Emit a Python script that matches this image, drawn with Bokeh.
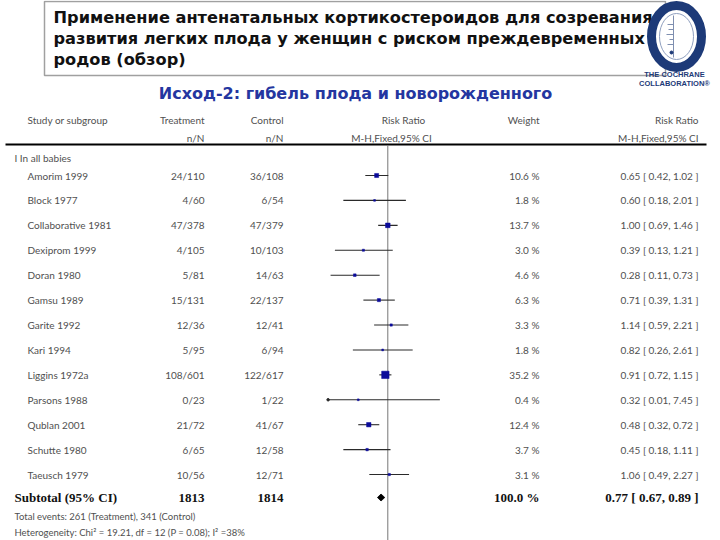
import numpy as np
from bokeh.plotting import figure
from bokeh.models import Range1d, LogScale
from bokeh.core.properties import value
from bokeh.embed import file_html
from bokeh.resources import INLINE

# ---------------- data ----------------
title_lines = ["Применение антенатальных кортикостероидов для созревания",
               "развития легких плода у женщин с риском преждевременных",
               "родов (обзор)"]
subtitle = "Исход-2: гибель плода и новорожденного"

studies = ["Amorim 1999", "Block 1977", "Collaborative 1981", "Dexiprom 1999",
           "Doran 1980", "Gamsu 1989", "Garite 1992", "Kari 1994",
           "Liggins 1972a", "Parsons 1988", "Qublan 2001", "Schutte 1980",
           "Taeusch 1979"]
treatment = ["24/110", "4/60", "47/378", "4/105", "5/81", "15/131", "12/36",
             "5/95", "108/601", "0/23", "21/72", "6/65", "10/56"]
control = ["36/108", "6/54", "47/379", "10/103", "14/63", "22/137", "12/41",
           "6/94", "122/617", "1/22", "41/67", "12/58", "12/71"]
weight = [10.6, 1.8, 13.7, 3.0, 4.6, 6.3, 3.3, 1.8, 35.2, 0.4, 12.4, 3.7, 3.1]
rr = [0.65, 0.60, 1.00, 0.39, 0.28, 0.71, 1.14, 0.82, 0.91, 0.32, 0.48, 0.45, 1.06]
rr_lo = [0.42, 0.18, 0.69, 0.13, 0.11, 0.39, 0.59, 0.26, 0.72, 0.01, 0.32, 0.18, 0.49]
rr_hi = [1.02, 2.01, 1.46, 1.21, 0.73, 1.31, 2.21, 2.61, 1.15, 7.45, 0.72, 1.11, 2.27]

subtotal_label = "Subtotal (95% CI)"
subtotal_treat = "1813"
subtotal_control = "1814"
subtotal_weight = 100.0
subtotal_rr, subtotal_lo, subtotal_hi = 0.77, 0.67, 0.89
total_events = "Total events: 261 (Treatment), 341 (Control)"
heterogeneity = "Heterogeneity: Chi\u00b2 = 19.21, df = 12 (P = 0.08); I\u00b2 =38%"
subgroup = "I In all babies"
axis_min, axis_max = 0.1, 10.0

# ---------------- layout ----------------
W, H = 720, 540
p = figure(width=W, height=H, output_backend="svg", toolbar_location=None,
           x_range=Range1d(0, W), y_range=Range1d(H, 0),
           min_border=0, outline_line_color=None)
p.axis.visible = False
p.grid.visible = False
p.background_fill_color = "white"

# log scale for the risk ratio panel: 1.0 at x=387.3, 59.7 px per decade
x_one, px_dec = 387.3, 59.7
p.extra_x_ranges = {"rr": Range1d(10 ** ((0 - x_one) / px_dec), 10 ** ((W - x_one) / px_dec))}
p.extra_x_scales = {"rr": LogScale()}

LIGHT = value("Lato")
SERIF = value("Liberation Serif")
TC = "#505050"

def txt(x, y, s, size="10px", align="left", font=LIGHT, color=TC, style="normal"):
    p.text(x=[x], y=[y], text=[s], text_font=font, text_font_size=size,
           text_align=align, text_baseline="middle", text_color=color,
           text_font_style=style)

# title box
p.quad(left=[44], right=[665], top=[1], bottom=[75], fill_color=None,
       line_color="#a0a0a0", line_width=1.5)
for i, line in enumerate(title_lines):
    txt(53, 17 + 21 * i, line, size="16.2px", font=value("DejaVu Sans"),
        color="#111111", style="bold")
txt(355, 93, subtitle, size="16px", align="center", font=value("DejaVu Sans"),
    color="#2436a0", style="bold")

# logo
NAVY = "#1d3a78"
p.ellipse(x=[676], y=[36], width=[50], height=[62], fill_color="white",
          line_color=NAVY, line_width=9)
p.ellipse(x=[676], y=[36], width=[34], height=[46], fill_color=None,
          line_color="#8f9fbf", line_width=1)
p.segment(x0=[673], y0=[15], x1=[673], y1=[57], line_color="#7f8fb0", line_width=1)
p.segment(x0=[667, 668, 666, 669, 667], y0=[24, 29, 34, 39, 44],
          x1=[673, 673, 673, 673, 673], y1=[24, 29, 34, 39, 44],
          line_color="#7f8fb0", line_width=1)
p.scatter(x=[671], y=[52], size=3, marker="circle", color=NAVY)
txt(674, 74, "THE COCHRANE", size="7.5px", align="center", font=value("Liberation Sans"),
    color=NAVY, style="bold")
txt(674, 83, "COLLABORATION\u00ae", size="7.5px", align="center", font=value("Liberation Sans"),
    color=NAVY, style="bold")

# table header
txt(27, 119, "Study or subgroup")
txt(204, 119, "Treatment", align="right")
txt(283, 119, "Control", align="right")
txt(403, 119, "Risk Ratio", align="center")
txt(539, 119, "Weight", align="right")
txt(698, 119, "Risk Ratio", align="right")
txt(204, 137, "n/N", align="right")
txt(283, 137, "n/N", align="right")
txt(391, 137, "M-H,Fixed,95% CI", align="center")
txt(698, 137, "M-H,Fixed,95% CI", align="right")
p.segment(x0=[5], y0=[144], x1=[706], y1=[144], line_color="black", line_width=2)

txt(14, 157, subgroup)

row_y = [175 + 24.92 * i for i in range(len(studies))]
for y, s, t, c, w, r, l, h in zip(row_y, studies, treatment, control, weight, rr, rr_lo, rr_hi):
    txt(27, y, s)
    txt(204, y, t, align="right")
    txt(283, y, c, align="right")
    txt(539, y, f"{w:.1f} %", align="right")
    txt(698, y, f"{r:.2f} [ {l:.2f}, {h:.2f} ]", align="right")

# reference line at RR = 1
p.segment(x0=[1.0], y0=[145], x1=[1.0], y1=[H], x_range_name="rr",
          line_color="#777777", line_width=1)

# confidence intervals (clipped to axis range)
lo_c = [max(v, axis_min) for v in rr_lo]
hi_c = [min(v, axis_max) for v in rr_hi]
p.segment(x0=lo_c, y0=row_y, x1=hi_c, y1=row_y, x_range_name="rr",
          line_color="#2a2a2a", line_width=1.1)
clip_x = [axis_min for v in rr_lo if v < axis_min]
clip_y = [y for y, v in zip(row_y, rr_lo) if v < axis_min]
p.scatter(x=clip_x, y=clip_y, x_range_name="rr", marker="circle", size=2.5,
          color="#2a2a2a")

# weighted squares
sizes = [max(1.25 * np.sqrt(w), 1.8) for w in weight]
p.scatter(x=rr, y=row_y, size=sizes, marker="square", x_range_name="rr",
          fill_color="#0a0a9a", line_color="#0a0a9a", line_width=0.5)

# subtotal
ys = 497
txt(14, ys, subtotal_label, size="13px", font=SERIF, color="#111111", style="bold")
txt(204, ys, subtotal_treat, size="13px", align="right", font=SERIF, color="#111111", style="bold")
txt(283, ys, subtotal_control, size="13px", align="right", font=SERIF, color="#111111", style="bold")
txt(539, ys, f"{subtotal_weight:.1f} %", size="13px", align="right", font=SERIF, color="#111111", style="bold")
txt(698, ys, f"{subtotal_rr:.2f} [ {subtotal_lo:.2f}, {subtotal_hi:.2f} ]", size="13px",
    align="right", font=SERIF, color="#111111", style="bold")
p.patch(x=[subtotal_lo, subtotal_rr, subtotal_hi, subtotal_rr],
        y=[ys, ys - 3.5, ys, ys + 3.5], x_range_name="rr",
        fill_color="black", line_color="black", line_width=0.8)

txt(14, 516, total_events, size="9.5px")
txt(14, 532, heterogeneity, size="9.5px")

open("out.html", "w").write(file_html(p, INLINE))
